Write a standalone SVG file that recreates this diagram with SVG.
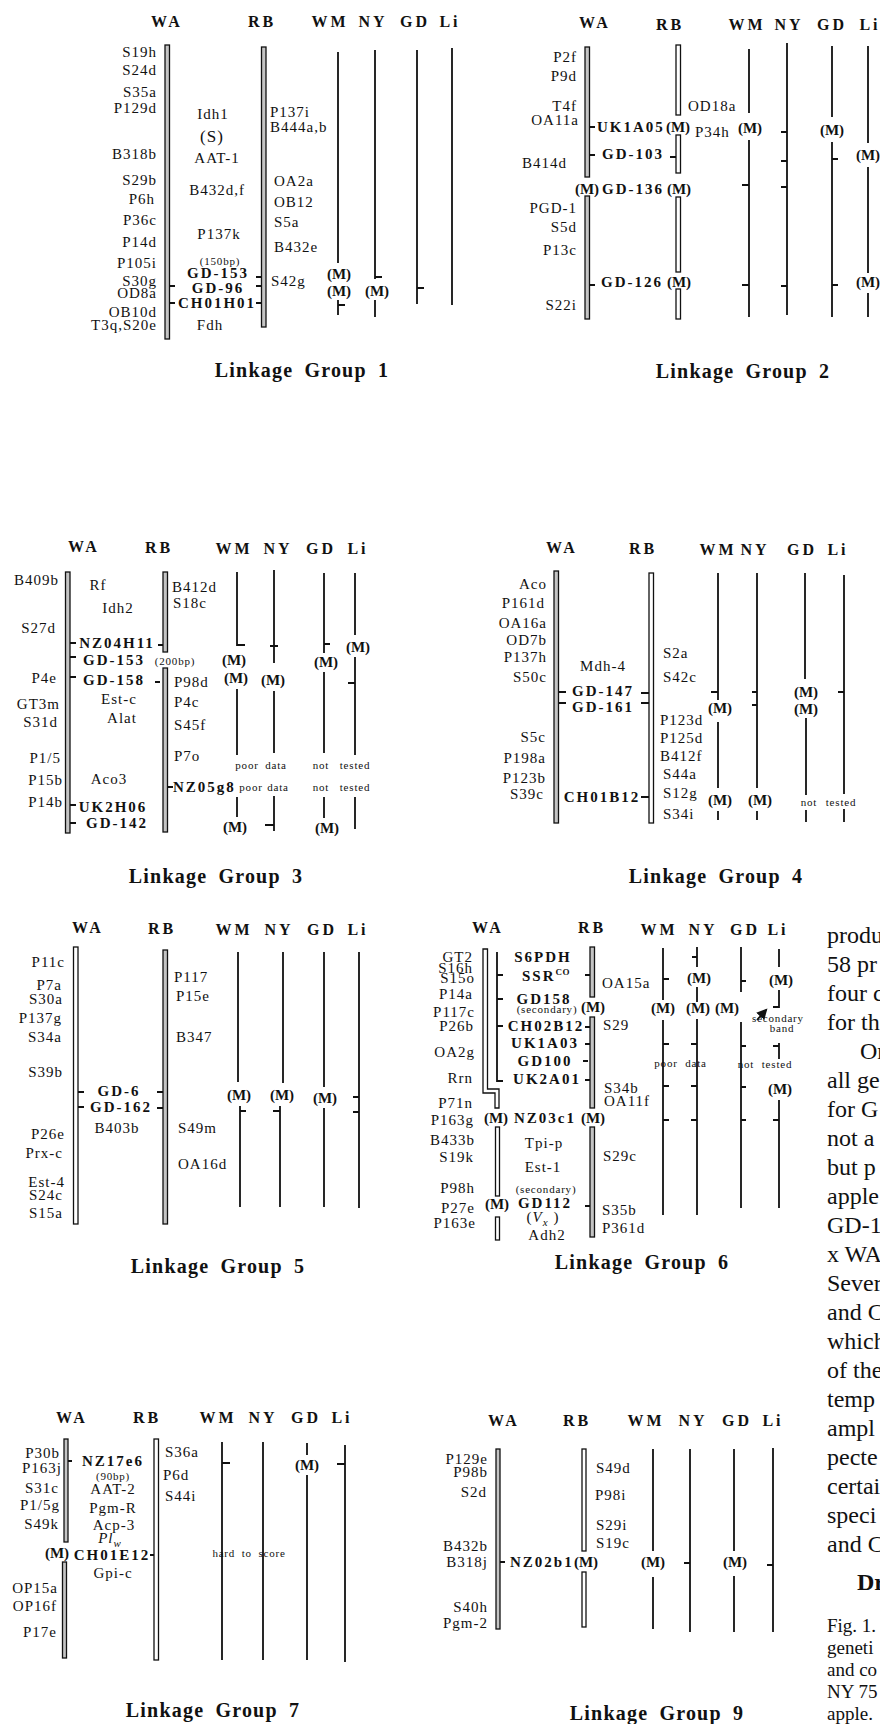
<svg xmlns="http://www.w3.org/2000/svg" width="880" height="1724" viewBox="0 0 880 1724">
<defs>
<style>
text{font-family:'Liberation Serif','Times New Roman',serif;fill:#111}
.h{font-size:16px;font-weight:bold;letter-spacing:3px;text-anchor:middle}
.t{font-size:20px;font-weight:bold;letter-spacing:1.2px;word-spacing:5px;text-anchor:middle}
.l{font-size:15px;letter-spacing:1px}
.e{text-anchor:end}
.c{text-anchor:middle}
.b{font-size:15px;font-weight:bold;letter-spacing:2px}
.m{font-size:15px;font-weight:bold;text-anchor:middle}
.s{font-size:11px;letter-spacing:0.8px}
.body{font-size:24px}
.cap{font-size:19px}
.ln{stroke:#111;stroke-width:1.8;fill:none}
.bar{fill:#c4c4c4;stroke:#111;stroke-width:1.3}
.barw{fill:#fff;stroke:#111;stroke-width:1.3}
</style>
<marker id="ah" viewBox="0 0 10 10" refX="8" refY="5" markerWidth="6" markerHeight="6" orient="auto"><path d="M0,0L10,5L0,10Z" fill="#111"/></marker>
</defs>
<rect width="880" height="1724" fill="#fff"/>

<g id="connectors">
<path class="ln" d="M338,52V263M338,300V315M338,305H345M375,50V279M375,277H382M375,300V317M417,50V304M417,288H424M452,48V305M169,286H175M169,303H175M256,277H261.5M256,286H261.5M256,303H261.5"/>
<path class="ln" d="M749,49V113M749,140V317M742,185H749M742,285H749M787,43V315M781,132H787M781,161H787M781,187H787M781,286H787M832,46V117M832,142V317M832,159H838M832,285H838M868,46V143M868,167V273M868,293V317M589.5,127H595M589.5,155H595M589.5,285H595M670,157H676"/>
<path class="ln" d="M237,572V645H245M237,689V755M237,797V817M274,570V663M270,646H278M274,691V753M274,796V831M265,825H274M324,573V653M324,644H330M324,672V753M324,797V818M355,573V635M355,657V755M348,683H355M355,797V829M70,643H76M70,657H76M70,677H76M70,805H76M70,823H76M158,645H163M155,682H160M167.5,787H173"/>
<path class="ln" d="M718,573V700M711,692H718M718,722V788M718,811V820M757,573V788M752,692H757M752,705H757M757,811V820M805,573V679M806,718V795M806,810V822M844,575V794M838,692H844M844,809V822M558.5,692H566M558.5,703H566M641,693H649M641,703H649M641,797H649"/>
<path class="ln" d="M238,952V1082M240,1106V1207M240,1111H246M283,952V1083M280,1106V1207M273,1111H280M324,952V1087M324,1108V1207M359,952V1208M353,1097H359M353,1112H359M78,1092H84M78,1107H84M157,1092H163M157,1108H163"/>
<path class="ln" d="M497,952V1082M497,975H503M497,999H503M497,1026H503M497,1081H503M585,975H590M585,1027H590M585,1044H590M585,1080H590M585,1206H590M583,1061H588M663,948V1000M663,979H669M663,1020V1215M663,1044H669M663,1086H669M663,1120H669M697,947V967M692,957H697M697,987V1002M697,1019V1215M691,1044H697M691,1086H697M691,1120H697M741,947V992M741,981H746M741,1022V1208M741,1046H746M741,1087H746M741,1120H746M779,949V967M779,990V1007H773M779,1043V1059M773,1046H779M779,1100V1208M773,1120H779"/>
<path class="ln" d="M757,1020L766,1010" stroke-width="1.6" marker-end="url(#ah)"/>
<path class="ln" d="M222,1442V1660M222,1463H230M263,1442V1660M307,1443V1455M307,1475V1660M345,1445V1662M337,1464H345M68,1461H72M150,1555H154"/>
<path class="ln" d="M653,1449V1551M653,1577V1629M690,1449V1632M684,1563H690M734,1449V1551M734,1576V1632M773,1448V1632M767,1565H773M500,1562H505"/>
</g>

<g id="lg1">
<text class="h" x="167" y="27">WA</text><text class="h" x="262" y="27">RB</text><text class="h" x="330" y="27">WM</text><text class="h" x="373" y="27">NY</text><text class="h" x="415" y="27">GD</text><text class="h" x="450" y="27">Li</text>
<rect class="bar" x="165" y="45" width="4.5" height="294"/><rect class="bar" x="261.5" y="47" width="4.5" height="280"/>
<g class="l e"><text x="157" y="57">S19h</text><text x="157" y="75">S24d</text><text x="157" y="97">S35a</text><text x="157" y="113">P129d</text><text x="157" y="159">B318b</text><text x="157" y="185">S29b</text><text x="155" y="204">P6h</text><text x="157" y="225">P36c</text><text x="157" y="247">P14d</text><text x="157" y="268">P105i</text><text x="157" y="286">S30g</text><text x="157" y="298">OD8a</text><text x="157" y="317">OB10d</text><text x="157" y="330">T3q,S20e</text></g>
<g class="l c"><text x="213" y="119">Idh1</text><text x="212" y="142" font-size="17">(S)</text><text x="217" y="163">AAT-1</text><text x="217" y="195">B432d,f</text><text x="219" y="239">P137k</text><text x="210" y="330">Fdh</text></g>
<text class="s c" x="220" y="265">(150bp)</text>
<g class="b c"><text x="218" y="278">GD-153</text><text x="218" y="293">GD-96</text><text x="217" y="308">CH01H01</text></g>
<g class="l"><text x="270" y="117">P137i</text><text x="270" y="132">B444a,b</text><text x="274" y="186">OA2a</text><text x="274" y="207">OB12</text><text x="274" y="227">S5a</text><text x="274" y="252">B432e</text><text x="271" y="286">S42g</text></g>
<text class="m" x="339" y="279">(M)</text><text class="m" x="339" y="296">(M)</text><text class="m" x="377" y="296">(M)</text>
<text class="t" x="302" y="377">Linkage Group 1</text>
</g>

<g id="lg2">
<text class="h" x="595" y="28">WA</text><text class="h" x="670" y="30">RB</text><text class="h" x="747" y="30">WM</text><text class="h" x="789" y="30">NY</text><text class="h" x="832" y="30">GD</text><text class="h" x="870" y="30">Li</text>
<rect class="bar" x="585" y="47" width="4.5" height="130"/><rect class="bar" x="585" y="196" width="4.5" height="123"/>
<rect class="barw" x="676" y="45" width="4.5" height="70"/><rect class="barw" x="676" y="135" width="4.5" height="38"/><rect class="barw" x="676" y="197" width="4.5" height="75"/><rect class="barw" x="676" y="289" width="4.5" height="30"/>
<g class="l e"><text x="577" y="62">P2f</text><text x="577" y="81">P9d</text><text x="577" y="111">T4f</text><text x="579" y="125">OA11a</text><text x="567" y="168">B414d</text><text x="577" y="213">PGD-1</text><text x="577" y="232">S5d</text><text x="577" y="255">P13c</text><text x="577" y="310">S22i</text></g>
<text class="b" x="597" y="132">UK1A05</text>
<g class="b c"><text x="633" y="159">GD-103</text><text x="633" y="194">GD-136</text><text x="632" y="287">GD-126</text></g>
<g class="l"><text x="688" y="111">OD18a</text><text x="695" y="137">P34h</text></g>
<text class="m" x="678" y="132">(M)</text><text class="m" x="587" y="194">(M)</text><text class="m" x="679" y="194">(M)</text><text class="m" x="679" y="287">(M)</text>
<text class="m" x="750" y="133">(M)</text><text class="m" x="832" y="135">(M)</text><text class="m" x="868" y="160">(M)</text><text class="m" x="868" y="287">(M)</text>
<text class="t" x="743" y="378">Linkage Group 2</text>
</g>

<g id="lg3">
<text class="h" x="84" y="552">WA</text><text class="h" x="159" y="553">RB</text><text class="h" x="234" y="554">WM</text><text class="h" x="278" y="554">NY</text><text class="h" x="321" y="554">GD</text><text class="h" x="358" y="554">Li</text>
<rect class="bar" x="65.5" y="572" width="4.5" height="261"/><rect class="bar" x="163" y="572" width="4.5" height="80"/><rect class="bar" x="163" y="668" width="4.5" height="164"/>
<g class="l e"><text x="59" y="585">B409b</text><text x="56" y="633">S27d</text><text x="57" y="683">P4e</text><text x="60" y="709">GT3m</text><text x="58" y="727">S31d</text><text x="61" y="763">P1/5</text><text x="63" y="785">P15b</text><text x="63" y="807">P14b</text></g>
<g class="l c"><text x="98" y="590">Rf</text><text x="118" y="613">Idh2</text><text x="119" y="704">Est-c</text><text x="122" y="723">Alat</text><text x="109" y="784">Aco3</text></g>
<g class="b c"><text x="117" y="648">NZ04H11</text><text x="114" y="665">GD-153</text><text x="114" y="685">GD-158</text><text x="113" y="812">UK2H06</text><text x="117" y="828">GD-142</text></g>
<text class="b" x="173" y="792">NZ05g8</text>
<text class="s c" x="175" y="665">(200bp)</text>
<g class="l"><text x="172" y="592">B412d</text><text x="173" y="608">S18c</text><text x="174" y="687">P98d</text><text x="174" y="707">P4c</text><text x="174" y="730">S45f</text><text x="174" y="761">P7o</text></g>
<text class="m" x="234" y="665">(M)</text><text class="m" x="236" y="683">(M)</text><text class="m" x="273" y="685">(M)</text><text class="m" x="326" y="667">(M)</text><text class="m" x="358" y="652">(M)</text><text class="m" x="235" y="832">(M)</text><text class="m" x="327" y="833">(M)</text>
<g class="s c"><text x="247" y="769">poor</text><text x="276" y="769">data</text><text x="321" y="769">not</text><text x="355" y="769">tested</text><text x="251" y="791">poor</text><text x="278" y="791">data</text><text x="321" y="791">not</text><text x="355" y="791">tested</text></g>
<text class="t" x="216" y="883">Linkage Group 3</text>
</g>

<g id="lg4">
<text class="h" x="562" y="553">WA</text><text class="h" x="643" y="554">RB</text><text class="h" x="718" y="555">WM</text><text class="h" x="755" y="555">NY</text><text class="h" x="802" y="555">GD</text><text class="h" x="838" y="555">Li</text>
<rect class="bar" x="554" y="571" width="4.5" height="252"/><rect class="barw" x="649" y="573" width="4.5" height="250"/>
<g class="l e"><text x="547" y="589">Aco</text><text x="545" y="608">P161d</text><text x="547" y="628">OA16a</text><text x="547" y="645">OD7b</text><text x="547" y="662">P137h</text><text x="547" y="682">S50c</text><text x="546" y="742">S5c</text><text x="546" y="763">P198a</text><text x="546" y="783">P123b</text><text x="544" y="799">S39c</text></g>
<text class="l c" x="603" y="671">Mdh-4</text>
<g class="b c"><text x="603" y="696">GD-147</text><text x="603" y="712">GD-161</text><text x="602" y="802">CH01B12</text></g>
<g class="l"><text x="663" y="658">S2a</text><text x="663" y="682">S42c</text><text x="660" y="725">P123d</text><text x="660" y="743">P125d</text><text x="660" y="761">B412f</text><text x="663" y="779">S44a</text><text x="663" y="798">S12g</text><text x="663" y="819">S34i</text></g>
<text class="m" x="720" y="713">(M)</text><text class="m" x="720" y="805">(M)</text><text class="m" x="760" y="805">(M)</text><text class="m" x="806" y="697">(M)</text><text class="m" x="806" y="714">(M)</text>
<g class="s c"><text x="809" y="806">not</text><text x="841" y="806">tested</text></g>
<text class="t" x="716" y="883">Linkage Group 4</text>
</g>

<g id="lg5">
<text class="h" x="88" y="933">WA</text><text class="h" x="162" y="934">RB</text><text class="h" x="234" y="935">WM</text><text class="h" x="279" y="935">NY</text><text class="h" x="322" y="935">GD</text><text class="h" x="358" y="935">Li</text>
<rect class="barw" x="73.5" y="947" width="4.5" height="277"/><rect class="bar" x="163" y="950" width="4.5" height="274"/>
<g class="l e"><text x="65" y="967">P11c</text><text x="62" y="990">P7a</text><text x="63" y="1004">S30a</text><text x="62" y="1023">P137g</text><text x="62" y="1042">S34a</text><text x="63" y="1077">S39b</text><text x="65" y="1139">P26e</text><text x="63" y="1158">Prx-c</text><text x="65" y="1187">Est-4</text><text x="63" y="1200">S24c</text><text x="63" y="1218">S15a</text></g>
<g class="b c"><text x="119" y="1096">GD-6</text><text x="121" y="1112">GD-162</text></g>
<text class="l c" x="117" y="1133">B403b</text>
<g class="l"><text x="174" y="982">P117</text><text x="176" y="1001">P15e</text><text x="176" y="1042">B347</text><text x="178" y="1133">S49m</text><text x="178" y="1169">OA16d</text></g>
<text class="m" x="239" y="1100">(M)</text><text class="m" x="282" y="1100">(M)</text><text class="m" x="325" y="1103">(M)</text>
<text class="t" x="218" y="1273">Linkage Group 5</text>
</g>

<g id="lg6">
<text class="h" x="488" y="933">WA</text><text class="h" x="592" y="933">RB</text><text class="h" x="659" y="935">WM</text><text class="h" x="703" y="935">NY</text><text class="h" x="745" y="935">GD</text><text class="h" x="778" y="935">Li</text>
<path class="barw" d="M483,949H487.5V1089H499V1108H495V1093H483Z"/>
<rect class="barw" x="495.5" y="1127" width="4" height="69"/><rect class="barw" x="495.5" y="1217" width="4" height="23"/>
<rect class="bar" x="590" y="947" width="4.5" height="50"/><rect class="bar" x="590" y="1017" width="4.5" height="91"/><rect class="bar" x="590" y="1127" width="4.5" height="110"/>
<g class="l e"><text x="473" y="962">GT2</text><text x="473" y="973">S16h</text><text x="475" y="983">S15o</text><text x="473" y="999">P14a</text><text x="475" y="1017">P117c</text><text x="474" y="1031">P26b</text><text x="475" y="1057">OA2g</text><text x="473" y="1083">Rrn</text><text x="473" y="1108">P71n</text><text x="474" y="1125">P163g</text><text x="475" y="1145">B433b</text><text x="474" y="1162">S19k</text><text x="475" y="1193">P98h</text><text x="475" y="1213">P27e</text><text x="476" y="1228">P163e</text></g>
<g class="b c"><text x="543" y="962">S6PDH</text><text x="544" y="1004">GD158</text><text x="546" y="1031">CH02B12</text><text x="545" y="1048">UK1A03</text><text x="545" y="1066">GD100</text><text x="547" y="1084">UK2A01</text><text x="545" y="1123">NZ03c1</text><text x="545" y="1208">GD112</text></g>
<text class="b" x="522" y="981">SSR<tspan font-size="9" letter-spacing="0.5" dy="-6">CO</tspan></text>
<g class="s c"><text x="547" y="1013">(secondary)</text><text x="546" y="1193">(secondary)</text></g>
<g class="l c"><text x="544" y="1148">Tpi-p</text><text x="543" y="1172">Est-1</text><text x="543" y="1222">(<tspan font-style="italic">V</tspan><tspan font-style="italic" font-size="11" dy="4">x</tspan><tspan dy="-4"> )</tspan></text><text x="547" y="1240">Adh2</text></g>
<g class="l"><text x="602" y="988">OA15a</text><text x="603" y="1030">S29</text><text x="604" y="1093">S34b</text><text x="604" y="1106">OA11f</text><text x="603" y="1161">S29c</text><text x="602" y="1215">S35b</text><text x="602" y="1233">P361d</text></g>
<text class="m" x="593" y="1012">(M)</text><text class="m" x="496" y="1123">(M)</text><text class="m" x="593" y="1123">(M)</text><text class="m" x="497" y="1209">(M)</text>
<text class="m" x="699" y="983">(M)</text><text class="m" x="781" y="985">(M)</text><text class="m" x="663" y="1013">(M)</text><text class="m" x="698" y="1013">(M)</text><text class="m" x="727" y="1013">(M)</text><text class="m" x="780" y="1094">(M)</text>
<g class="s c"><text x="778" y="1022">secondary</text><text x="782" y="1032">band</text><text x="666" y="1067">poor</text><text x="696" y="1067">data</text><text x="746" y="1068">not</text><text x="777" y="1068">tested</text></g>
<text class="t" x="642" y="1269">Linkage Group 6</text>
</g>

<g id="lg7">
<text class="h" x="72" y="1423">WA</text><text class="h" x="147" y="1423">RB</text><text class="h" x="218" y="1423">WM</text><text class="h" x="263" y="1423">NY</text><text class="h" x="306" y="1423">GD</text><text class="h" x="342" y="1423">Li</text>
<rect class="bar" x="64" y="1439" width="4" height="103"/><rect class="bar" x="62.5" y="1562" width="4" height="96"/><rect class="barw" x="154" y="1439" width="4.5" height="221"/>
<g class="l e"><text x="60" y="1458">P30b</text><text x="62" y="1473">P163j</text><text x="59" y="1493">S31c</text><text x="60" y="1510">P1/5g</text><text x="59" y="1529">S49k</text><text x="58" y="1593">OP15a</text><text x="57" y="1611">OP16f</text><text x="57" y="1637">P17e</text></g>
<g class="b c"><text x="113" y="1466">NZ17e6</text><text x="112" y="1560">CH01E12</text></g>
<text class="s c" x="113" y="1480">(90bp)</text>
<g class="l c"><text x="113" y="1494">AAT-2</text><text x="113" y="1513">Pgm-R</text><text x="114" y="1530">Acp-3</text><text x="110" y="1543" font-style="italic">Pl<tspan font-size="11" dy="4">w</tspan></text><text x="113" y="1578">Gpi-c</text></g>
<g class="l"><text x="165" y="1457">S36a</text><text x="163" y="1480">P6d</text><text x="165" y="1501">S44i</text></g>
<text class="m" x="57" y="1558">(M)</text><text class="m" x="307" y="1470">(M)</text>
<text class="s c" x="249" y="1557" word-spacing="3">hard to score</text>
<text class="t" x="213" y="1717">Linkage Group 7</text>
</g>

<g id="lg9">
<text class="h" x="504" y="1426">WA</text><text class="h" x="577" y="1426">RB</text><text class="h" x="646" y="1426">WM</text><text class="h" x="693" y="1426">NY</text><text class="h" x="737" y="1426">GD</text><text class="h" x="773" y="1426">Li</text>
<rect class="bar" x="496" y="1449" width="4" height="180"/><rect class="barw" x="582" y="1449" width="4" height="102"/><rect class="barw" x="582" y="1572" width="4" height="55"/>
<g class="l e"><text x="488" y="1464">P129e</text><text x="488" y="1477">P98b</text><text x="487" y="1497">S2d</text><text x="488" y="1551">B432b</text><text x="488" y="1567">B318j</text><text x="488" y="1612">S40h</text><text x="488" y="1628">Pgm-2</text></g>
<text class="b" x="510" y="1567">NZ02b1</text>
<g class="l"><text x="596" y="1473">S49d</text><text x="595" y="1500">P98i</text><text x="596" y="1530">S29i</text><text x="596" y="1548">S19c</text></g>
<text class="m" x="586" y="1567">(M)</text><text class="m" x="653" y="1567">(M)</text><text class="m" x="735" y="1567">(M)</text>
<text class="t" x="657" y="1720">Linkage Group 9</text>
</g>

<g id="page-text">
<g class="body"><text x="827" y="943">produ</text><text x="827" y="972">58 pr</text><text x="827" y="1001">four c</text><text x="827" y="1030">for th</text><text x="860" y="1059">Or</text><text x="827" y="1088">all ge</text><text x="827" y="1117">for G</text><text x="827" y="1146">not a</text><text x="827" y="1175">but p</text><text x="827" y="1204">apple</text><text x="827" y="1233">GD-1</text><text x="827" y="1262">x WA</text><text x="827" y="1291">Sever</text><text x="827" y="1320">and C</text><text x="827" y="1349">which</text><text x="827" y="1378">of the</text><text x="827" y="1407">temp</text><text x="827" y="1436">ampl</text><text x="827" y="1465">pecte</text><text x="827" y="1494">certai</text><text x="827" y="1523">speci</text><text x="827" y="1552">and C</text><text x="857" y="1590" font-weight="bold">Dr</text></g>
<g class="cap"><text x="827" y="1632">Fig. 1.</text><text x="827" y="1654">geneti</text><text x="827" y="1676">and co</text><text x="827" y="1698">NY 75</text><text x="827" y="1720">apple.</text></g>
</g>
</svg>
